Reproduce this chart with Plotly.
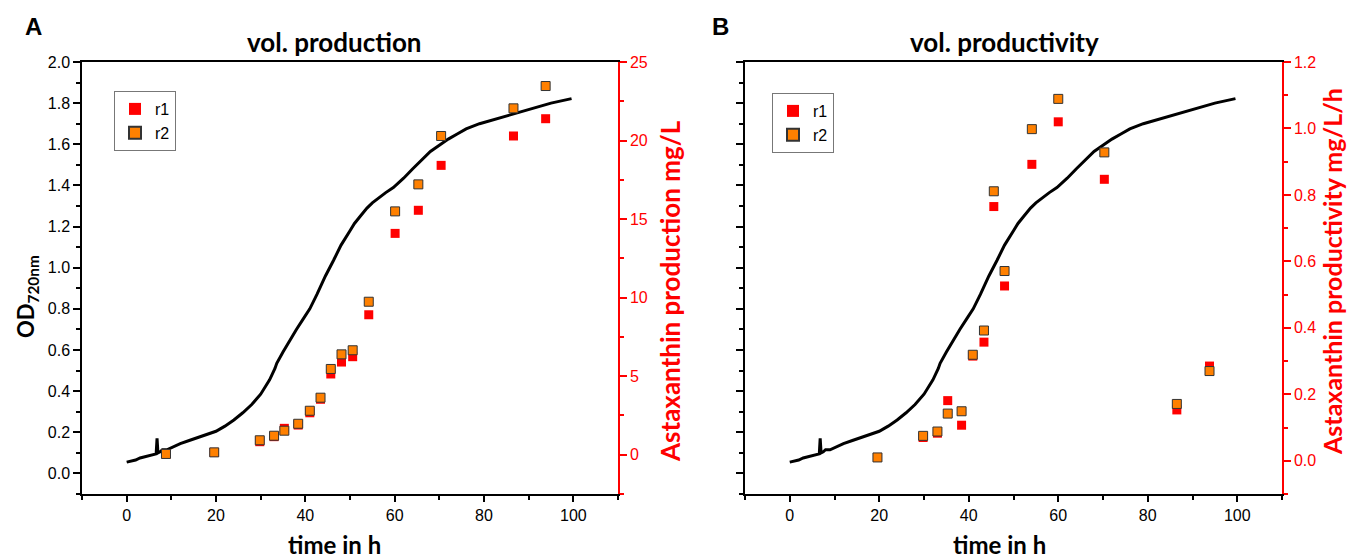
import plotly.graph_objects as go

# ---------------- data ----------------
time_od = [0, 1, 2, 3, 4, 5, 6, 6.6, 6.8, 7.0, 7.5, 8, 9, 10, 11, 12, 14, 16, 18, 20,
           22, 24, 26, 28, 30, 32, 33.2, 33.6, 35, 36.6, 38, 39.5, 41, 42.6, 44.5,
           46.3, 48, 50, 51, 52.3, 53.8, 55, 56.7, 58, 59.7, 62, 64, 66, 68, 70, 72,
           74, 76, 79, 83, 87, 91, 95, 99.6]
od = [0.055, 0.06, 0.065, 0.075, 0.08, 0.085, 0.09, 0.095, 0.17, 0.10, 0.105, 0.115,
      0.115, 0.125, 0.135, 0.145, 0.16, 0.175, 0.19, 0.205, 0.23, 0.26, 0.295, 0.335,
      0.385, 0.455, 0.51, 0.535, 0.59, 0.65, 0.70, 0.75, 0.80, 0.87, 0.96, 1.035,
      1.11, 1.18, 1.215, 1.25, 1.29, 1.315, 1.345, 1.365, 1.39, 1.435, 1.48, 1.525,
      1.565, 1.595, 1.625, 1.65, 1.675, 1.70, 1.725, 1.75, 1.775, 1.80, 1.822]

t_prod = [8.8, 19.6, 29.8, 33.0, 35.3, 38.4, 41.0, 43.4, 45.7, 48.1, 50.6, 54.2,
          60.1, 65.3, 70.4, 86.6, 93.8]
prod_r1 = [0.05, 0.15, 0.83, 1.15, 1.68, 1.89, 2.67, 3.53, 5.14, 5.90, 6.24, 8.91,
           14.09, 15.56, 18.42, 20.29, 21.39]
prod_r2 = [0.05, 0.15, 0.92, 1.21, 1.53, 1.97, 2.80, 3.63, 5.46, 6.39, 6.65, 9.74,
           15.49, 17.21, 20.29, 22.05, 23.47]

t_rate = [19.6, 29.8, 33.0, 35.3, 38.4, 40.9, 43.4, 45.6, 48.0, 54.1, 60.0, 70.3,
          86.5, 93.8]
rate_r1 = [0.01, 0.07, 0.083, 0.181, 0.107, 0.315, 0.357, 0.765, 0.526, 0.892, 1.02,
           0.847, 0.153, 0.285]
rate_r2 = [0.01, 0.075, 0.088, 0.142, 0.149, 0.319, 0.392, 0.811, 0.571, 0.998,
           1.089, 0.928, 0.171, 0.27]

x_ticks = [0, 20, 40, 60, 80, 100]

# ---------------- figure ----------------
W, H = 1347, 559
RED = "#FF0000"
ORANGE = "#FF8000"
TICKFONT = dict(family="Liberation Sans, Arial, sans-serif", size=16, color="black")
TITLEFAMILY = "Lato, Open Sans, sans-serif"


def px(x):
    return x / W


def py(y):
    return 1 - y / H


fig = go.Figure()

# Panel A
fig.add_trace(go.Scatter(x=time_od, y=od, mode="lines", line=dict(color="black", width=3),
                         xaxis="x", yaxis="y", showlegend=False, hoverinfo="skip"))
fig.add_trace(go.Scatter(x=t_prod, y=prod_r1, mode="markers", name="r1",
                         marker=dict(symbol="square", size=9, color=RED, line=dict(width=0)),
                         xaxis="x", yaxis="y2", legend="legend"))
fig.add_trace(go.Scatter(x=t_prod, y=prod_r2, mode="markers", name="r2",
                         marker=dict(symbol="square", size=9, color=ORANGE,
                                     line=dict(width=1, color="#333333")),
                         xaxis="x", yaxis="y2", legend="legend"))

# Panel B
fig.add_trace(go.Scatter(x=time_od, y=od, mode="lines", line=dict(color="black", width=3),
                         xaxis="x2", yaxis="y3", showlegend=False, hoverinfo="skip"))
fig.add_trace(go.Scatter(x=t_rate, y=rate_r1, mode="markers", name="r1",
                         marker=dict(symbol="square", size=9, color=RED, line=dict(width=0)),
                         xaxis="x2", yaxis="y4", legend="legend2"))
fig.add_trace(go.Scatter(x=t_rate, y=rate_r2, mode="markers", name="r2",
                         marker=dict(symbol="square", size=9, color=ORANGE,
                                     line=dict(width=1, color="#333333")),
                         xaxis="x2", yaxis="y4", legend="legend2"))

xA = [px(82), px(618)]
xB = [px(745), px(1282)]
yD = [py(494), py(62)]


def xaxis(domain, anchor):
    return dict(domain=domain, anchor=anchor, range=[-10, 110], tickvals=x_ticks,
                ticks="outside", ticklen=6, tickwidth=1.5, tickcolor="black",
                showline=True, linecolor="black", linewidth=1.5, mirror=True,
                showgrid=False, zeroline=False, tickfont=TICKFONT, automargin=False,
                minor=dict(tickvals=[-10, 10, 30, 50, 70, 90, 110], ticks="outside",
                           ticklen=4, tickwidth=1.5, tickcolor="black"))


def yleft(domain, anchor, labels=True):
    return dict(domain=domain, anchor=anchor, range=[-0.1, 2.0], dtick=0.2, tick0=0,
                tickformat=".1f", ticks="outside", ticklen=7, tickwidth=1.5,
                tickcolor="black", showline=True, linecolor="black", linewidth=1.5,
                showgrid=False, zeroline=False, tickfont=TICKFONT,
                showticklabels=labels, automargin=False,
                minor=dict(dtick=0.1, tick0=0, ticks="outside", ticklen=4,
                           tickwidth=1.5, tickcolor="black"))


def yright(overlay, anchor, rng, dtick, minor, fmt):
    return dict(overlaying=overlay, anchor=anchor, side="right", range=rng,
                dtick=dtick, tick0=0, tickformat=fmt, ticks="outside", ticklen=7,
                tickwidth=1.5, tickcolor=RED, showline=True, linecolor=RED,
                linewidth=1.5, showgrid=False, zeroline=False,
                tickfont=dict(family=TICKFONT["family"], size=16, color=RED),
                automargin=False,
                minor=dict(dtick=minor, tick0=0, ticks="outside", ticklen=4,
                           tickwidth=1.5, tickcolor=RED))


legend_common = dict(bgcolor="white", bordercolor="#777777", borderwidth=1,
                     font=dict(family=TICKFONT["family"], size=16, color="black"),
                     xanchor="left", yanchor="top", itemsizing="constant",
                     tracegroupgap=0)

fig.update_layout(
    width=W, height=H,
    margin=dict(l=0, r=0, t=0, b=0),
    paper_bgcolor="white", plot_bgcolor="white",
    xaxis=xaxis(xA, "y"),
    xaxis2=xaxis(xB, "y3"),
    yaxis=yleft(yD, "x", True),
    yaxis2=yright("y", "x", [-2.5, 25], 5, 2.5, "d"),
    yaxis3=yleft(yD, "x2", False),
    yaxis4=yright("y3", "x2", [-0.1, 1.2], 0.2, 0.1, ".1f"),
    legend=dict(x=px(114), y=py(91), **legend_common),
    legend2=dict(x=px(772), y=py(93), **legend_common),
)


def ann(text, x, y, size, color="black", angle=0, family=TITLEFAMILY):
    fig.add_annotation(text=text, x=px(x), y=py(y), xref="paper", yref="paper",
                       showarrow=False, textangle=angle, xanchor="center",
                       yanchor="middle",
                       font=dict(family=family, size=size, color=color))


ann("<b>A</b>", 33, 27, 24, family="Liberation Sans, Arial, sans-serif")
ann("<b>B</b>", 720, 27, 24, family="Liberation Sans, Arial, sans-serif")
ann("<b>vol. production</b>", 334, 42, 26)
ann("<b>vol. productivity</b>", 1004, 42, 26)
ann("<b>time in h</b>", 334, 544, 24)
ann("<b>time in h</b>", 1000, 544, 24)
ann("<b>OD<sub>720nm</sub></b>", 27, 297, 22, angle=-90)
ann("<b>Astaxanthin production mg/L</b>", 670, 291, 26, color=RED, angle=-90)
ann("<b>Astaxanthin productivity mg/L/h</b>", 1332, 272, 25, color=RED, angle=-90)

fig.write_html("out.html",
               config={"displayModeBar": False},
               post_script="document.body.style.margin='0px';"
                           "document.body.style.overflow='hidden';")
